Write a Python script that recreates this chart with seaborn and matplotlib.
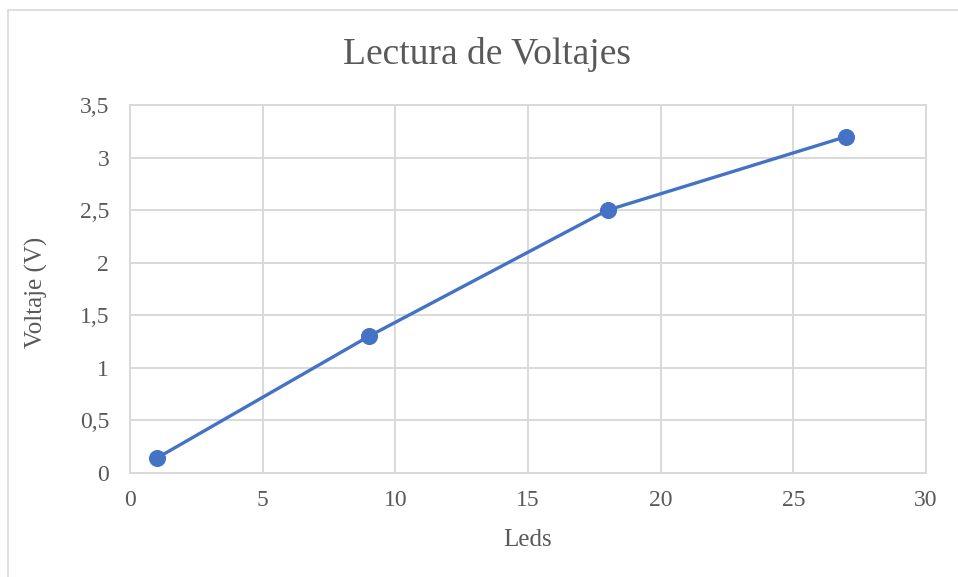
import matplotlib
matplotlib.use('Agg')
import matplotlib.pyplot as plt
import matplotlib.ticker as mticker
from matplotlib.patches import Rectangle
import seaborn as sns
import pandas as pd

# data
leds = [1, 9, 18, 27]
voltaje = [0.14, 1.3, 2.5, 3.2]

x_ticks = [0, 5, 10, 15, 20, 25, 30]
y_ticks = [0, 0.5, 1, 1.5, 2, 2.5, 3, 3.5]

df = pd.DataFrame({'Leds': leds, 'Voltaje': voltaje})

sns.set_theme(style='white')
plt.rcParams['font.family'] = ['Liberation Serif', 'DejaVu Serif']

text_col = '#595959'
grid_col = '#D9D9D9'
line_col = '#4472C4'

fig = plt.figure(figsize=(9.58, 5.77), dpi=100)
ax = fig.add_axes([130 / 958, 1 - 473 / 577, 796 / 958, 368 / 577])

sns.lineplot(data=df, x='Leds', y='Voltaje', ax=ax, color=line_col, linewidth=2.4,
             marker='o', markersize=11.5, markeredgecolor=line_col, zorder=3)

ax.set_xlim(0, 30)
ax.set_ylim(0, 3.5)
ax.set_xticks(x_ticks)
ax.set_yticks(y_ticks)
fmt = mticker.FuncFormatter(lambda v, p: ('%g' % v).replace('.', ','))
ax.xaxis.set_major_formatter(fmt)
ax.yaxis.set_major_formatter(fmt)

ax.grid(True, color=grid_col, linewidth=1.4)
ax.set_axisbelow(True)
for s in ax.spines.values():
    s.set_color(grid_col)
    s.set_linewidth(1.4)

ax.tick_params(axis='both', length=0, labelsize=17, labelcolor=text_col)
ax.tick_params(axis='x', pad=12)
ax.tick_params(axis='y', pad=15)
ax.set_xlabel('')
ax.set_ylabel('')
fig.text(528 / 958, 1 - 540 / 577, 'Leds', fontsize=18, color=text_col,
         ha='center', va='center')
fig.text(36 / 958, 1 - 292 / 577, 'Voltaje (V)', fontsize=18, color=text_col,
         ha='center', va='center', rotation=90)
fig.text(487 / 958, 1 - 54 / 577, 'Lectura de Voltajes', fontsize=27, color=text_col,
         ha='center', va='center')

# outer chart border
fig.patches.append(Rectangle((8 / 958, -0.1), 1.0, 1.1 - 10 / 577, transform=fig.transFigure,
                             fill=False, edgecolor=grid_col, linewidth=1.2))

fig.savefig('out.png', dpi=100)
